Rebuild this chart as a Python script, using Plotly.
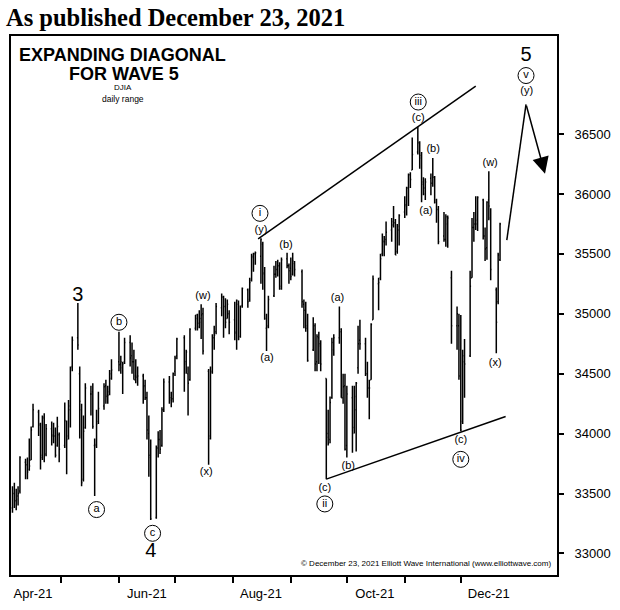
import pandas as pd
import plotly.graph_objects as go

FONT = "Liberation Sans, Arial, sans-serif"

# trading days shown on the chart (NYSE holidays taken out)
holidays = ["2021-05-31", "2021-07-05", "2021-09-06", "2021-11-25"]
dates = pd.bdate_range("2021-04-05", "2021-12-22", freq="C", holidays=holidays)

# DJIA daily range (one line per month)
opens = [
    33380, 33500, 33440, 33480, 33520, 33760, 33740, 33700, 33780, 34060, 34180, 34070, 33800, 34130, 33830, 34040, 33990, 33980, 33900, 33990,
    33900, 34100, 33980, 34200, 34560, 34800, 34500, 34200, 33620, 34050, 34330, 34350, 33900, 33910, 34100, 34230, 34400, 34320, 34350, 34500,
    34600, 34580, 34550, 34600, 34760, 34650, 34600, 34480, 34480, 34480, 34400, 34300, 34000, 33800, 33300, 33880, 33950, 33900, 34200, 34430, 34300, 34290,
    34520, 34650, 34800, 34600, 34500, 34450, 34880, 34960, 34920, 34960, 35000, 34520, 33980, 34520, 34800, 34850, 35050, 35140, 35060, 34960, 35000,
    34950, 34850, 35080, 34810, 35070, 35200, 35120, 35280, 35470, 35500, 35480, 35580, 35330, 34880, 34900, 35150, 35330, 35370, 35400, 35230, 35460, 35400,
    35380, 35330, 35420, 35350, 35080, 35030, 34900, 34700, 34900, 34600, 34800, 34730, 34460, 34000, 33950, 34300, 34700, 34800, 34850, 34300, 34400,
    33900, 34300, 34050, 34200, 34550, 34780, 34750, 34500, 34380, 34450, 34950, 35250, 35300, 35500, 35600, 35620, 35700, 35770, 35760, 35520, 35700,
    35850, 35900, 36050, 36160, 36200, 36350, 36420, 36300, 36100, 36050, 36130, 36090, 36140, 35950, 35870, 35650, 35620, 35750, 35300, 34900, 34900,
    34700, 34100, 34600, 34650, 35300, 35720, 35750, 35780, 35950, 35650, 35550, 35950, 35800, 35200, 35100, 35450,
]
highs = [
    33560, 33590, 33540, 33560, 33810, 33790, 33800, 33960, 34060, 34250, 34200, 34090, 34150, 34170, 34080, 34100, 34090, 34050, 34140, 34010,
    34260, 34110, 34280, 34560, 34810, 35090, 34560, 34250, 34150, 34420, 34400, 34420, 33960, 34200, 34350, 34420, 34450, 34400, 34530, 34620,
    34850, 34650, 34600, 34800, 34820, 34760, 34700, 34620, 34560, 34500, 34450, 34350, 34150, 33950, 33900, 34020, 34030, 34220, 34460, 34480, 34350, 34510,
    34650, 34800, 34820, 34700, 34560, 34880, 34990, 35000, 35030, 35080, 35050, 34540, 34560, 34830, 34900, 35090, 35170, 35150, 35130, 35120, 35030,
    35100, 35120, 35110, 35070, 35220, 35210, 35300, 35500, 35510, 35520, 35630, 35600, 35390, 35000, 35150, 35400, 35440, 35450, 35430, 35470, 35510, 35420,
    35470, 35510, 35440, 35370, 35120, 35100, 35000, 34970, 34920, 34830, 34850, 34780, 34460, 34200, 34310, 34800, 34830, 35060, 34880, 34500, 34500,
    34400, 34400, 34400, 34430, 34900, 34950, 34800, 34600, 34450, 34920, 35320, 35300, 35500, 35670, 35650, 35770, 35800, 35900, 35790, 35750, 35830,
    35980, 36060, 36170, 36180, 36470, 36560, 36440, 36350, 36140, 36130, 36170, 36300, 36150, 35960, 35900, 35850, 35830, 35820, 35360, 35060, 35000,
    34990, 34700, 34790, 35360, 35800, 35850, 35980, 35980, 35960, 35720, 35940, 36190, 35880, 35220, 35510, 35760,
]
lows = [
    33340, 33380, 33360, 33400, 33500, 33620, 33620, 33690, 33780, 34050, 33980, 33700, 33780, 33760, 33810, 33900, 33920, 33800, 33890, 33760,
    33880, 33660, 33950, 34050, 34520, 34700, 33960, 33560, 33600, 34040, 34150, 34040, 33480, 33880, 34080, 34200, 34250, 34250, 34320, 34450,
    34520, 34500, 34330, 34580, 34560, 34500, 34450, 34420, 34400, 34250, 34280, 33950, 33640, 33280, 33290, 33800, 33830, 33890, 34180, 34250, 34220, 34260,
    34480, 34620, 34350, 34500, 34150, 34440, 34860, 34860, 34880, 34790, 34660, 33740, 33950, 34500, 34700, 34830, 34980, 34800, 34880, 34960, 34830,
    34780, 34700, 34780, 34800, 35050, 35050, 35100, 35270, 35350, 35410, 35250, 35200, 34950, 34690, 34880, 35140, 35300, 35310, 35200, 35200, 35380, 35250,
    35280, 35320, 35310, 35050, 34880, 34850, 34600, 34690, 34520, 34520, 34580, 34520, 33620, 33900, 33920, 34290, 34650, 34750, 34300, 34250, 33860,
    33800, 33840, 34000, 33850, 34500, 34700, 34480, 34300, 34120, 34450, 34950, 35030, 35280, 35480, 35480, 35570, 35600, 35720, 35490, 35500, 35570,
    35800, 35820, 35900, 36050, 36200, 36330, 36210, 35930, 35990, 35950, 35990, 36060, 35920, 35760, 35580, 35600, 35560, 35550, 34750, 34700, 34450,
    34020, 34080, 34300, 34640, 35300, 35600, 35700, 35690, 35620, 35440, 35450, 35780, 35280, 34670, 35080, 35440,
]
closes = [
    33500, 33440, 33450, 33500, 33800, 33740, 33680, 33730, 34030, 34200, 34080, 33820, 34140, 33820, 34040, 33980, 33980, 33820, 34060, 33870,
    34110, 33950, 34230, 34550, 34780, 34740, 34270, 33590, 34020, 34380, 34330, 34060, 33900, 34080, 34210, 34390, 34310, 34320, 34460, 34530,
    34575, 34600, 34580, 34760, 34630, 34600, 34450, 34470, 34480, 34390, 34300, 34030, 33820, 33290, 33880, 33950, 33870, 34200, 34430, 34280, 34290, 34500,
    34630, 34790, 34580, 34680, 34420, 34870, 34990, 34890, 34930, 34990, 34690, 33960, 34510, 34800, 34820, 35060, 35140, 35060, 34930, 35080, 34930,
    34840, 35110, 34790, 35060, 35210, 35100, 35260, 35480, 35500, 35510, 35620, 35340, 34960, 34890, 35120, 35330, 35370, 35400, 35210, 35450, 35400, 35360,
    35310, 35440, 35370, 35100, 35030, 34880, 34610, 34870, 34580, 34810, 34750, 34580, 33970, 33920, 34260, 34760, 34800, 34870, 34300, 34390, 33870,
    34330, 34000, 34310, 34420, 34750, 34750, 34500, 34380, 34380, 34910, 35290, 35260, 35460, 35610, 35600, 35680, 35740, 35760, 35490, 35730, 35820,
    35910, 36050, 36160, 36120, 36330, 36430, 36320, 36080, 36000, 36100, 36090, 36140, 35930, 35870, 35600, 35620, 35810, 35800, 34900, 35000, 34480,
    34030, 34650, 34580, 35230, 35720, 35750, 35750, 35970, 35650, 35540, 35930, 35900, 35370, 34930, 35490, 35750,
]

# diagonal boundary lines and the projected path
upper_x = ["2021-08-14 12:00", "2021-12-09"]
upper_y = [35625, 36900]
lower_x = ["2021-09-20", "2021-12-25"]
lower_y = [33620, 34143]
proj_x = ["2021-12-25 15:00", "2022-01-04 22:00", "2022-01-15 02:00"]
proj_y = [35615, 36748, 36169]

# wave labels
plain_text = ["(w)", "(x)", "(y)", "(a)", "(b)", "(a)", "(b)", "(c)",
              "(c)", "(b)", "(a)", "(w)", "(x)", "(c)", "(y)"]
plain_x = ["2021-07-16", "2021-07-17 17:00", "2021-08-16", "2021-08-19 07:00",
           "2021-08-29 10:00", "2021-09-26", "2021-10-01 19:00", "2021-09-19 05:00",
           "2021-11-08 05:00", "2021-11-16 05:00", "2021-11-12 10:00", "2021-12-16 17:00",
           "2021-12-19 10:00", "2021-12-01", "2022-01-05 07:00"]
plain_y = [35150, 33680, 35700, 34625, 35576, 35127, 33730, 33542,
           36630, 36370, 35853, 36252, 34590, 33942, 36858]

circled_text = ["b", "a", "c", "i", "ii", "iii", "iv", "v"]
circled_x = ["2021-06-01", "2021-05-20", "2021-06-19", "2021-08-15 12:00",
             "2021-09-19 05:00", "2021-11-08 05:00", "2021-12-01", "2022-01-04 22:00"]
circled_y = [34929, 33366, 33168, 35838, 33413, 36767, 33785, 36988]

big_text = ["3", "4", "5"]
big_x = ["2021-05-10", "2021-06-18", "2022-01-04 22:00"]
big_y = [35152, 33010, 37147]

# axes
month_starts = ["2021-05-01", "2021-06-01", "2021-07-01", "2021-08-01",
                "2021-09-01", "2021-10-01", "2021-11-01", "2021-12-01"]
month_label_dates = ["2021-04-16", "2021-06-16", "2021-08-16", "2021-10-16", "2021-12-16"]
month_labels = ["Apr-21", "Jun-21", "Aug-21", "Oct-21", "Dec-21"]
price_ticks = [33000, 33500, 34000, 34500, 35000, 35500, 36000, 36500]
price_labels = ["33000", "33500", "34000", "34500", "35000", "35500", "36000", "36500"]

assert len(dates) == len(opens) == len(highs) == len(lows) == len(closes)

fig = go.Figure()

fig.add_trace(go.Ohlc(
    x=dates, open=opens, high=highs, low=lows, close=closes,
    increasing=dict(line=dict(color="black", width=1.5)),
    decreasing=dict(line=dict(color="black", width=1.5)),
    tickwidth=0.5, hoverinfo="skip", showlegend=False,
))

for lx, ly in [(upper_x, upper_y), (lower_x, lower_y), (proj_x[:2], proj_y[:2])]:
    fig.add_trace(go.Scatter(x=lx, y=ly, mode="lines",
                             line=dict(color="black", width=1.5),
                             hoverinfo="skip", showlegend=False))

fig.add_annotation(x=proj_x[2], y=proj_y[2], ax=proj_x[1], ay=proj_y[1],
                   xref="x", yref="y", axref="x", ayref="y", text="",
                   showarrow=True, arrowhead=2, arrowsize=2.2, arrowwidth=1.5,
                   arrowcolor="black")

fig.add_trace(go.Scatter(x=plain_x, y=plain_y, mode="text", text=plain_text,
                         textposition="middle center",
                         textfont=dict(family=FONT, size=11, color="black"),
                         cliponaxis=False, hoverinfo="skip", showlegend=False))

fig.add_trace(go.Scatter(x=circled_x, y=circled_y, mode="markers+text", text=circled_text,
                         textposition="middle center",
                         textfont=dict(family=FONT, size=11, color="black"),
                         marker=dict(symbol="circle-open", size=16, color="black",
                                     line=dict(color="black", width=1)),
                         cliponaxis=False, hoverinfo="skip", showlegend=False))

fig.add_trace(go.Scatter(x=big_x, y=big_y, mode="text", text=big_text,
                         textposition="middle center",
                         textfont=dict(family=FONT, size=20, color="black"),
                         cliponaxis=False, hoverinfo="skip", showlegend=False))

# titles and notes
fig.add_annotation(text="<b>As published December 23, 2021</b>", xref="paper", yref="paper",
                   x=-0.013, y=1.035, xanchor="left", yanchor="middle", showarrow=False,
                   font=dict(family="Liberation Serif, Times New Roman, serif", size=24.5, color="black"))
fig.add_annotation(text="<b>EXPANDING DIAGONAL</b>", xref="paper", yref="paper",
                   x=0.205, y=0.965, xanchor="center", yanchor="middle", showarrow=False,
                   font=dict(family=FONT, size=18, color="black"))
fig.add_annotation(text="<b>FOR WAVE 5</b>", xref="paper", yref="paper",
                   x=0.207, y=0.930, xanchor="center", yanchor="middle", showarrow=False,
                   font=dict(family=FONT, size=18, color="black"))
fig.add_annotation(text="DJIA", xref="paper", yref="paper",
                   x=0.206, y=0.904, xanchor="center", yanchor="middle", showarrow=False,
                   font=dict(family=FONT, size=8, color="black"))
fig.add_annotation(text="daily range", xref="paper", yref="paper",
                   x=0.205, y=0.883, xanchor="center", yanchor="middle", showarrow=False,
                   font=dict(family=FONT, size=8.5, color="black"))
fig.add_annotation(text="\u00a9 December 23, 2021 Elliott Wave International (www.elliottwave.com)",
                   xref="paper", yref="paper", x=0.992, y=0.022,
                   xanchor="right", yanchor="middle", showarrow=False,
                   font=dict(family=FONT, size=8, color="black"))

fig.update_layout(
    width=620, height=610,
    margin=dict(l=9, r=63, t=36, b=30),
    paper_bgcolor="white", plot_bgcolor="white",
    showlegend=False,
    font=dict(family=FONT, color="black"),
    xaxis=dict(
        type="date", range=["2021-04-04 05:00", "2022-01-21 12:00"],
        showline=True, linecolor="black", linewidth=2, mirror=True,
        showgrid=False, zeroline=False,
        tickmode="array", tickvals=month_label_dates, ticktext=month_labels,
        ticks="", tickfont=dict(family=FONT, size=13, color="black"),
        ticklabelstandoff=5,
        rangeslider=dict(visible=False),
        minor=dict(tickmode="array", tickvals=month_starts, ticks="outside",
                   ticklen=6, tickwidth=1.5, tickcolor="black", showgrid=False),
    ),
    yaxis=dict(
        side="right", range=[32820, 37318],
        showline=True, linecolor="black", linewidth=2, mirror=True,
        showgrid=False, zeroline=False,
        tickmode="array", tickvals=price_ticks, ticktext=price_labels,
        ticks="outside", ticklen=5, tickwidth=1.5, tickcolor="black",
        tickfont=dict(family=FONT, size=13, color="black"),
        ticklabelstandoff=8,
    ),
)

# drop the browser's default body margin so the figure fills the window
fig.write_html("out.html", config={"displayModeBar": False},
               post_script="document.body.style.margin = '0';")
